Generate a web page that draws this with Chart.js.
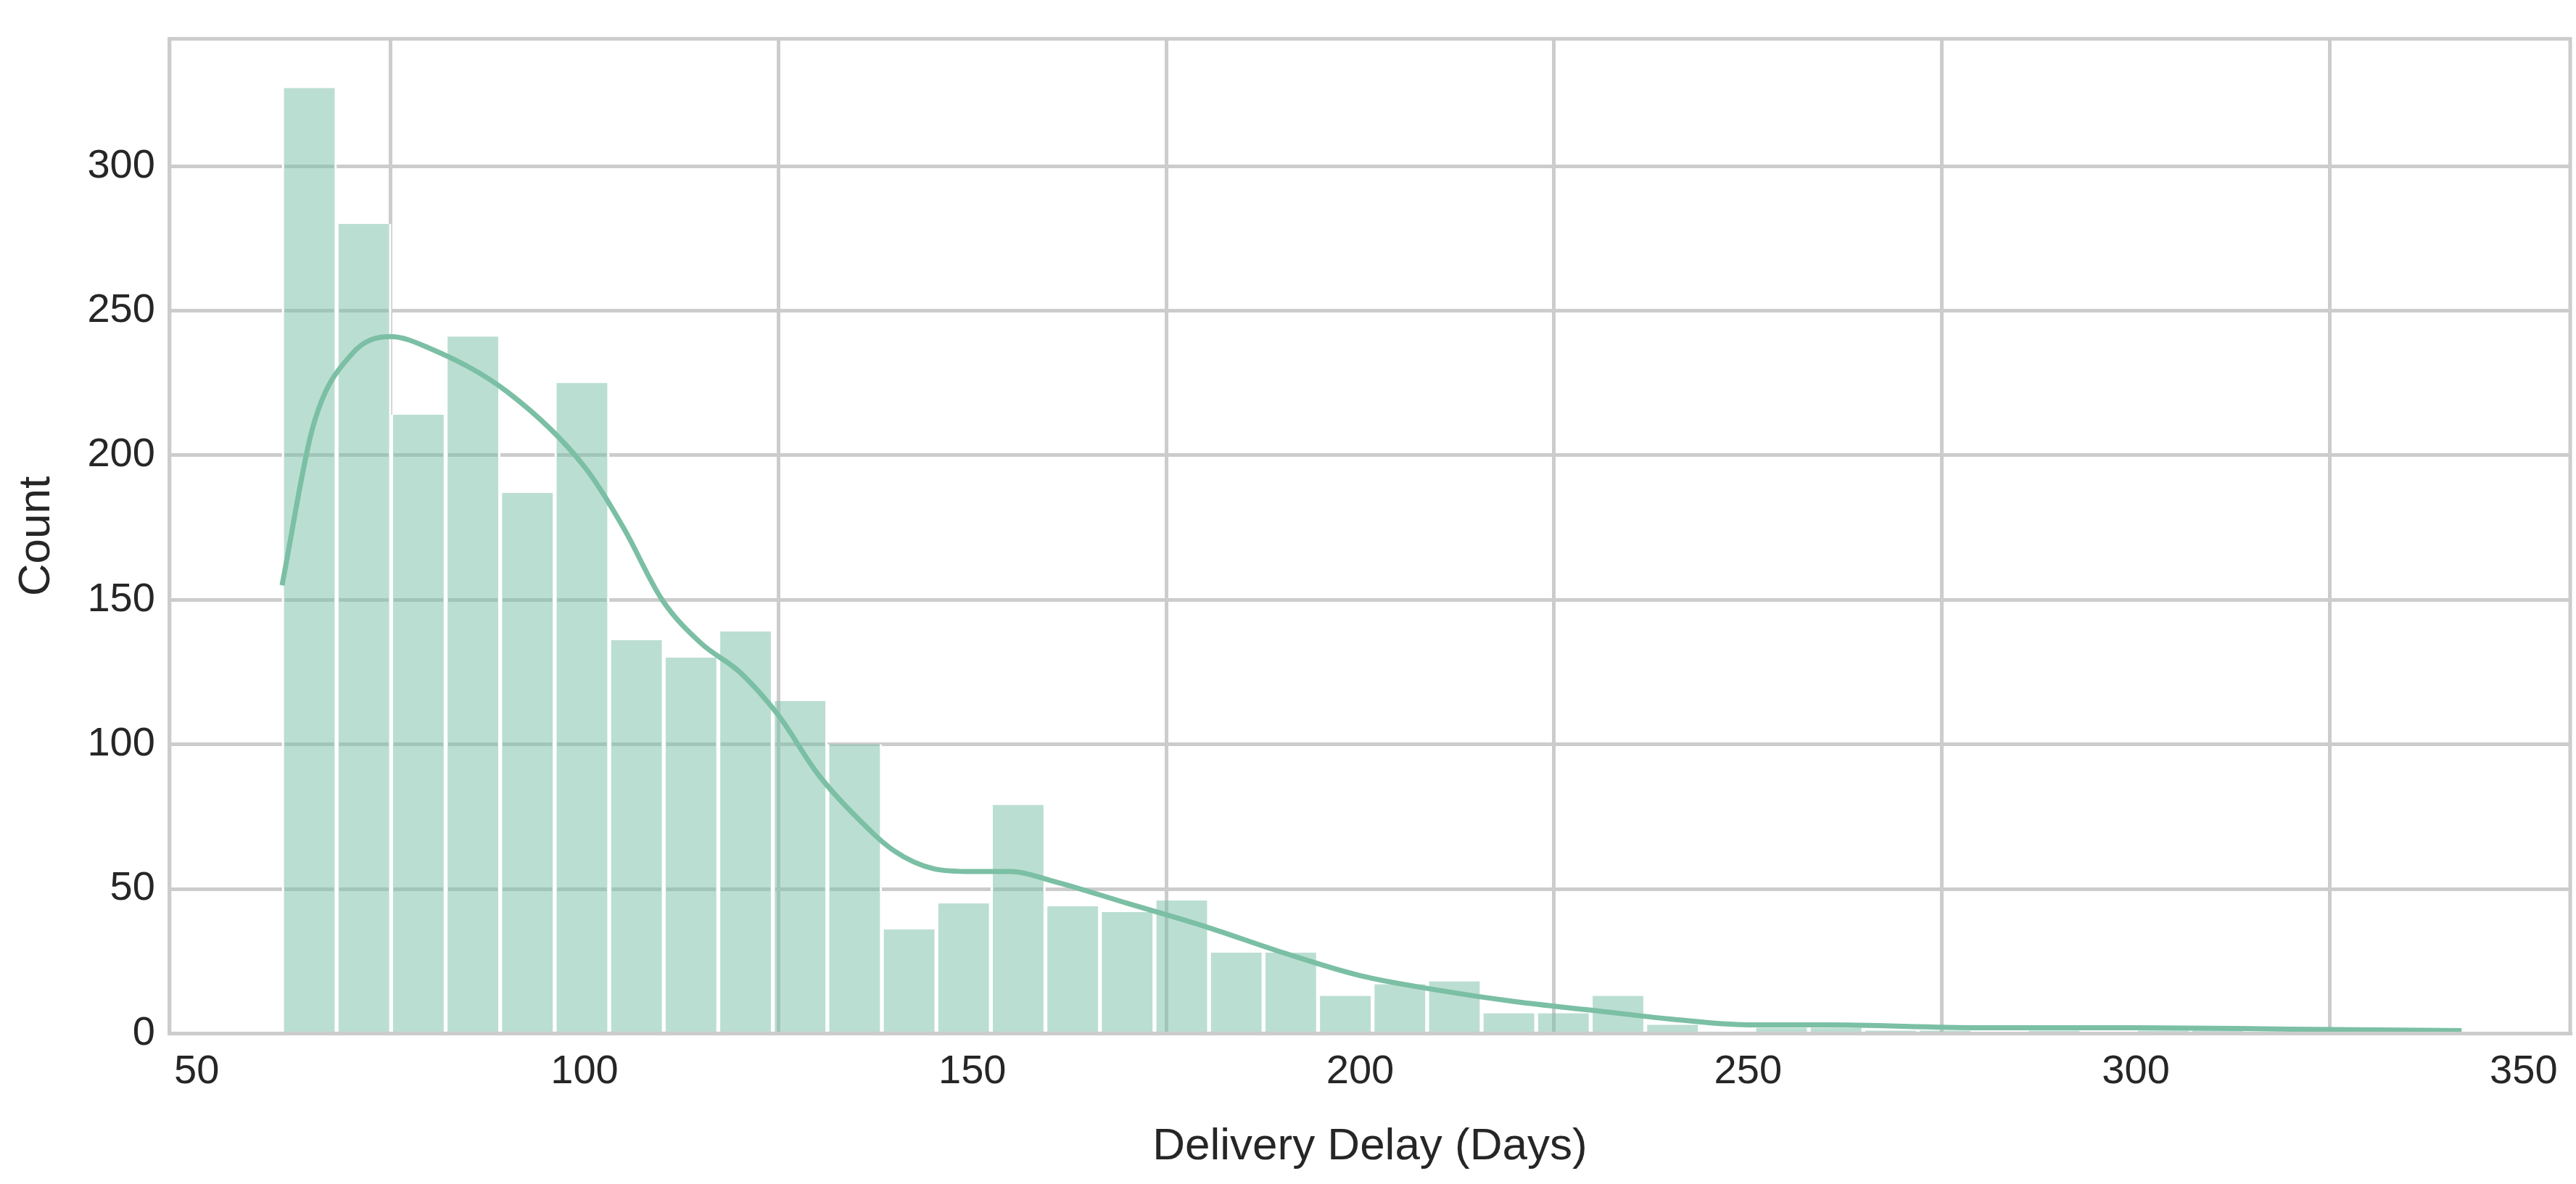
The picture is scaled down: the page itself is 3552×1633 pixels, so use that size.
<!DOCTYPE html>
<html><head><meta charset="utf-8">
<script src="https://cdn.jsdelivr.net/npm/chart.js@4"></script>
<style>html,body{margin:0;background:#fff}</style>
</head><body><canvas id="c" width="3552" height="1633"></canvas>
<script>
// histogram bins (start 61, width ~7.03 days)
const binStart = 61, binWidth = 7.03;
const counts = [327,280,214,241,187,225,136,130,139,115,100,36,45,79,44,42,46,28,28,13,17,18,7,7,13,3,0,2,2,1,1,0,1,0,1,1,0,0,0,1];
// kde curve
const kdeX = [61,65,70,75,80,90,100,105,110,115,120,125,130,135,140,145,150,155,160,170,180,190,200,210,220,230,240,250,260,280,300,320,342];
const kdeY = [155,210,235,241,237,222,196,175,150,135,125,110,90,75,63,57,56,56,53,45,37,28,20,15,11,8,5,3,3,2,2,1.5,1];
const xTicks = [50,100,150,200,250,300,350];
const yTicks = [0,50,100,150,200,250,300];

const bars = counts.map((c,i) => ({x: binStart + binWidth*(i+0.5), y: c}));
const kde = kdeX.map((x,i) => ({x, y: kdeY[i]}));
const font = {family: 'Arial, "Liberation Sans", sans-serif', size: 56};
const grid = {color: '#cccccc', lineWidth: 5, drawTicks: false};

Chart.defaults.color = '#262626';
new Chart(document.getElementById('c'), {
  type: 'bar',
  data: {datasets: [
    {type: 'line', data: kde, borderColor: '#7bbfa5', borderWidth: 7, pointRadius: 0, cubicInterpolationMode: 'monotone'},
    {data: bars, backgroundColor: 'rgba(120,190,165,0.5)', borderColor: '#ffffff', borderWidth: {left: 3, right: 3}, borderSkipped: 'bottom', barPercentage: 1, categoryPercentage: 1, grouped: false}
  ]},
  options: {
    responsive: false, animation: false, devicePixelRatio: 1,
    layout: {padding: {top: 27, right: 8, left: 10, bottom: 10}},
    plugins: {legend: {display: false}, tooltip: {enabled: false}},
    scales: {
      x: {type: 'linear', min: 46.5, max: 356, offset: false,
          afterBuildTicks: s => { s.ticks = xTicks.map(v => ({value: v})); },
          grid, border: {color: '#cccccc', width: 5},
          ticks: {font, padding: 20},
          title: {display: true, text: 'Delivery Delay (Days)', font: {...font, size: 62}, padding: {top: 12}}},
      y: {min: 0, max: 344,
          afterBuildTicks: s => { s.ticks = yTicks.map(v => ({value: v})); },
          grid, border: {color: '#cccccc', width: 5},
          ticks: {font, padding: 20},
          title: {display: true, text: 'Count', font: {...font, size: 62}, padding: {bottom: 12}}}
    }
  },
  plugins: [{id: 'frame', afterDraw(ch) {
    const {ctx, chartArea: a} = ch;
    ctx.save(); ctx.strokeStyle = '#cccccc'; ctx.lineWidth = 5;
    ctx.strokeRect(a.left, a.top, a.right - a.left, a.bottom - a.top); ctx.restore();
  }}]
});
</script>
</body></html>
